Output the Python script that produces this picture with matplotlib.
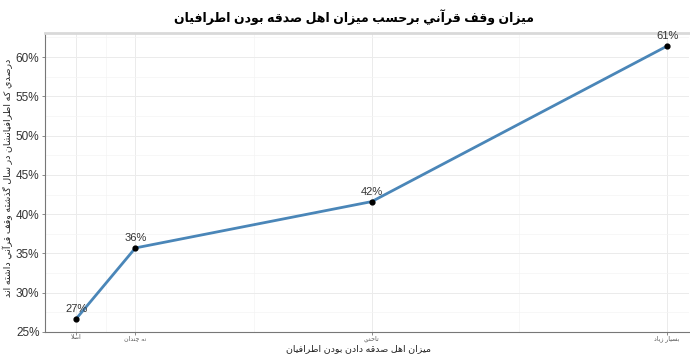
import matplotlib
matplotlib.use("Agg")
import matplotlib.pyplot as plt
from matplotlib.ticker import FixedLocator, FuncFormatter

# Data
categories = ["اصلا", "نه چندان", "تاحدي", "بسيار زياد"]
x_pos = [1, 2, 6, 11]
values = [26.7, 35.7, 41.6, 61.4]
value_labels = ["27%", "36%", "42%", "61%"]
title = "ميزان وقف قرآني برحسب ميزان اهل صدقه بودن اطرافيان"
x_title = "ميزان اهل صدقه دادن بودن اطرافيان"
y_title = "درصدي كه اطرافيانشان در سال گذشته وقف قرآني داشته اند"
y_ticks = [25, 30, 35, 40, 45, 50, 55, 60]

# matplotlib does no Arabic shaping, so pick presentation forms by hand
# (isolated, final, initial, medial); two-form letters only join to the right
FORMS = {
    "ا": (0xFE8D, 0xFE8E), "آ": (0xFE81, 0xFE82), "د": (0xFEA9, 0xFEAA),
    "ذ": (0xFEAB, 0xFEAC), "ر": (0xFEAD, 0xFEAE), "ز": (0xFEAF, 0xFEB0),
    "و": (0xFEED, 0xFEEE), "ة": (0xFE93, 0xFE94),
    "ب": (0xFE8F, 0xFE90, 0xFE91, 0xFE92), "ت": (0xFE95, 0xFE96, 0xFE97, 0xFE98),
    "ج": (0xFE9D, 0xFE9E, 0xFE9F, 0xFEA0), "ح": (0xFEA1, 0xFEA2, 0xFEA3, 0xFEA4),
    "س": (0xFEB1, 0xFEB2, 0xFEB3, 0xFEB4), "ش": (0xFEB5, 0xFEB6, 0xFEB7, 0xFEB8),
    "ص": (0xFEB9, 0xFEBA, 0xFEBB, 0xFEBC), "ط": (0xFEC1, 0xFEC2, 0xFEC3, 0xFEC4),
    "ف": (0xFED1, 0xFED2, 0xFED3, 0xFED4), "ق": (0xFED5, 0xFED6, 0xFED7, 0xFED8),
    "ك": (0xFED9, 0xFEDA, 0xFEDB, 0xFEDC), "ل": (0xFEDD, 0xFEDE, 0xFEDF, 0xFEE0),
    "م": (0xFEE1, 0xFEE2, 0xFEE3, 0xFEE4), "ن": (0xFEE5, 0xFEE6, 0xFEE7, 0xFEE8),
    "ه": (0xFEE9, 0xFEEA, 0xFEEB, 0xFEEC), "ي": (0xFEF1, 0xFEF2, 0xFEF3, 0xFEF4),
    "گ": (0xFB92, 0xFB93, 0xFB94, 0xFB95), "چ": (0xFB7A, 0xFB7B, 0xFB7C, 0xFB7D),
}
LAM_ALEF = {"ا": (0xFEFB, 0xFEFC), "آ": (0xFEF5, 0xFEF6)}


def shape(text):
    out = []
    i = 0
    n = len(text)
    while i < n:
        ch = text[i]
        if ch not in FORMS:
            out.append(ch)
            i += 1
            continue
        prev = text[i - 1] if i > 0 else ""
        joins_prev = prev in FORMS and len(FORMS[prev]) == 4
        nxt = text[i + 1] if i + 1 < n else ""
        if ch == "ل" and nxt in LAM_ALEF:
            out.append(chr(LAM_ALEF[nxt][1 if joins_prev else 0]))
            i += 2
            continue
        f = FORMS[ch]
        joins_next = len(f) == 4 and nxt in FORMS
        if joins_prev and joins_next:
            out.append(chr(f[3]))
        elif joins_prev:
            out.append(chr(f[1]))
        elif joins_next:
            out.append(chr(f[2]))
        else:
            out.append(chr(f[0]))
        i += 1
    return "".join(out)[::-1]


plt.rcParams["font.family"] = ["Liberation Sans", "DejaVu Sans"]

fig = plt.figure(figsize=(6.9, 3.54), dpi=100)
W, H = 690, 354
left, right, bottom, top = 45, 689, 332, 33
ax = fig.add_axes((left / W, (H - bottom) / H, (right - left) / W, (bottom - top) / H))

ax.plot(x_pos, values, color="#4a86b8", lw=2, zorder=3)
ax.scatter(x_pos, values, color="black", s=12, zorder=4)
for x, v, lab in zip(x_pos, values, value_labels):
    ax.annotate(lab, (x, v), xytext=(0, 3.5), textcoords="offset points",
                ha="center", va="bottom", fontsize=8, color="#333333")

ax.set_xlim(0.47, 11.37)
ax.set_ylim(25, 63.06)

ax.set_xticks(x_pos)
ax.set_xticklabels([shape(c) for c in categories], fontsize=4.5, color="#555555")
ax.xaxis.set_minor_locator(FixedLocator([1.5, 4, 8.5]))
ax.set_yticks(y_ticks)
ax.yaxis.set_major_formatter(FuncFormatter(lambda v, p: f"{v:.0f}%"))
ax.yaxis.set_minor_locator(FixedLocator([27.5, 32.5, 37.5, 42.5, 47.5, 52.5, 57.5, 62.5]))
ax.tick_params(axis="y", labelsize=8.5, labelcolor="#333333", length=2.5,
               width=0.6, color="#777777", pad=1.5)
ax.tick_params(axis="x", length=2, width=0.6, color="#777777", pad=0.5)
ax.tick_params(which="minor", length=0)

ax.grid(which="major", color="#ebebeb", lw=0.7)
ax.grid(which="minor", color="#f4f4f4", lw=0.5)
ax.set_axisbelow(True)

for side in ["left", "bottom"]:
    ax.spines[side].set_color("#777777")
    ax.spines[side].set_linewidth(0.8)
ax.spines["top"].set_color("#d9d9d9")
ax.spines["top"].set_linewidth(2)
ax.spines["right"].set_visible(False)

# axis titles placed by pixel position below / left of the panel
ax.set_xlabel(shape(x_title), fontsize=6.8, color="#222222", va="center")
ax.xaxis.set_label_coords((358 - left) / (right - left), (bottom - 348.5) / (bottom - top))
ax.set_ylabel(shape(y_title), fontsize=6.8, color="#222222", va="center")
ax.yaxis.set_label_coords((8 - left) / (right - left), (bottom - 178) / (bottom - top))

fig.text(354 / W, 1 - 17 / H, shape(title), ha="center", va="center",
         fontsize=9, fontweight="bold", color="black")

fig.savefig("out.png", dpi=100)
